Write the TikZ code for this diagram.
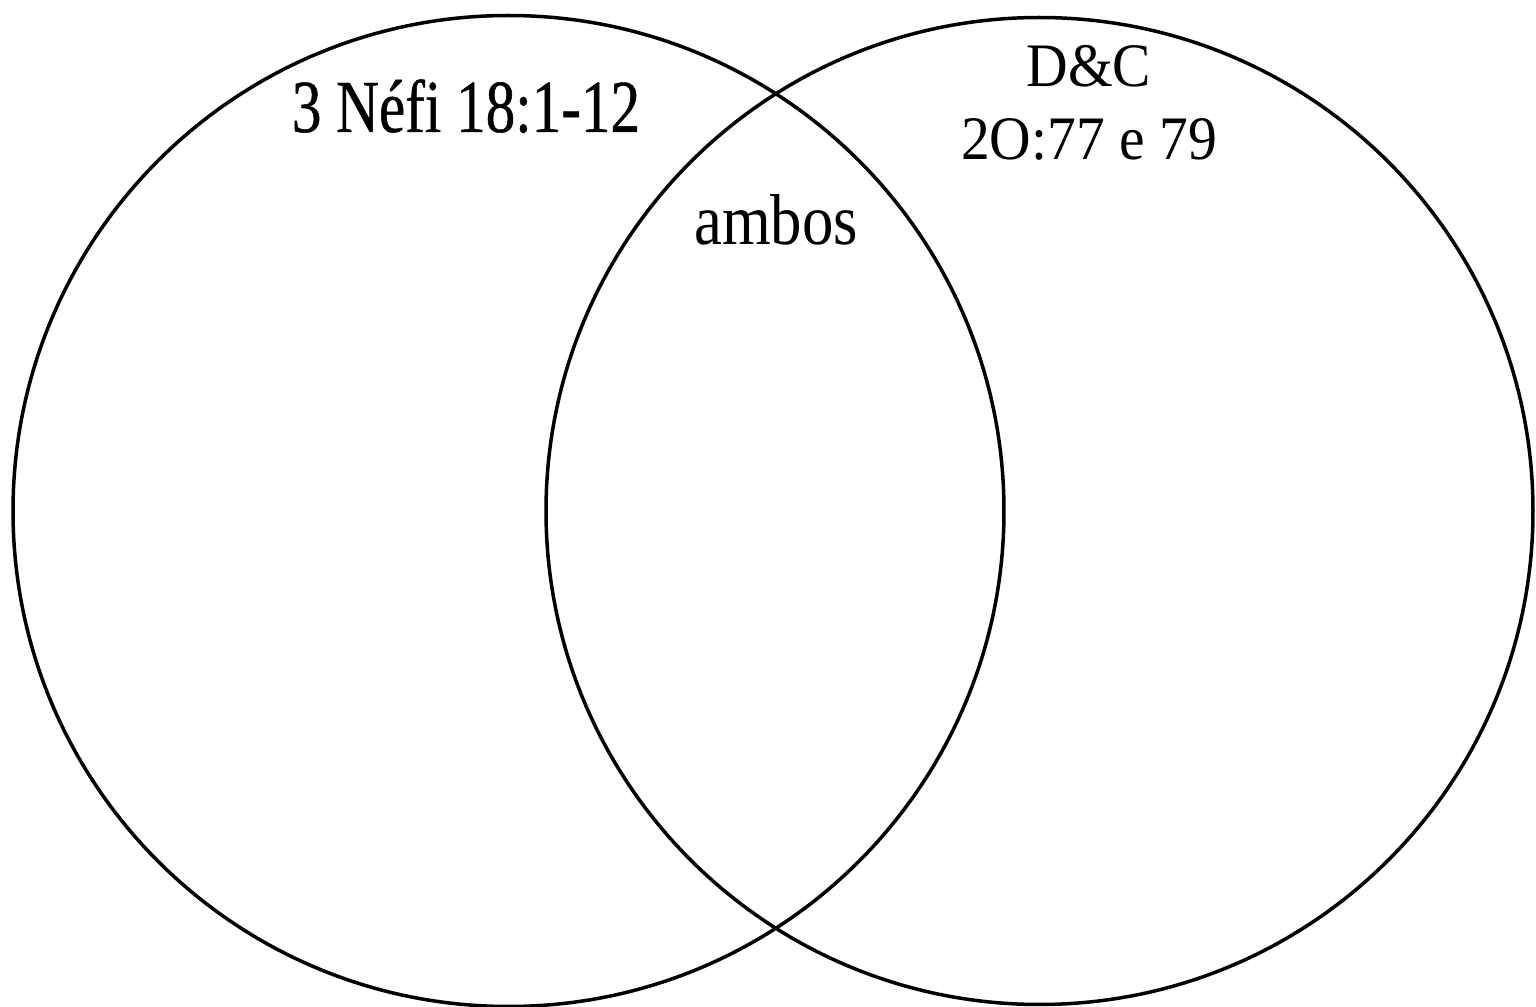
\documentclass[tikz,border=0pt]{standalone}
\usepackage{fontspec}
\setmainfont{Liberation Serif}
\newfontfamily\nefifont[FakeStretch=0.79,FakeBold=0.6]{Liberation Serif}
\newfontfamily\dcfont[FakeStretch=0.93]{Liberation Serif}
\newfontfamily\ambosfont[FakeStretch=0.87]{Liberation Serif}
\begin{document}
\begin{tikzpicture}[x=0.1mm,y=-0.1mm,
  venn/.style={circle, draw=black, line width=0.35mm, inner sep=0pt, outer sep=0pt},
  lbl/.style={anchor=base, inner sep=0pt, text=black}]
\useasboundingbox[fill=white] (0,0) rectangle (1536,1007);
\node[venn, minimum size=99.1mm] (left) at (508.5,511) {};
\node[venn, minimum size=98.7mm] (right) at (1039.5,511) {};
\node[lbl, font={\nefifont\fontsize{21.3pt}{24pt}\selectfont}] (nefi) at (466,132) {3 Néfi 18:1-12};
\node[lbl, font={\dcfont\fontsize{17.6pt}{20pt}\selectfont}] (dc1) at (1089,87) {D\&C};
\node[lbl, font={\dcfont\fontsize{17.6pt}{20pt}\selectfont}] (dc2) at (1089,160) {2O:77 e 79};
\node[lbl, font={\ambosfont\fontsize{20.5pt}{24pt}\selectfont}] (ambos) at (776,245) {ambos};
\end{tikzpicture}
\end{document}
